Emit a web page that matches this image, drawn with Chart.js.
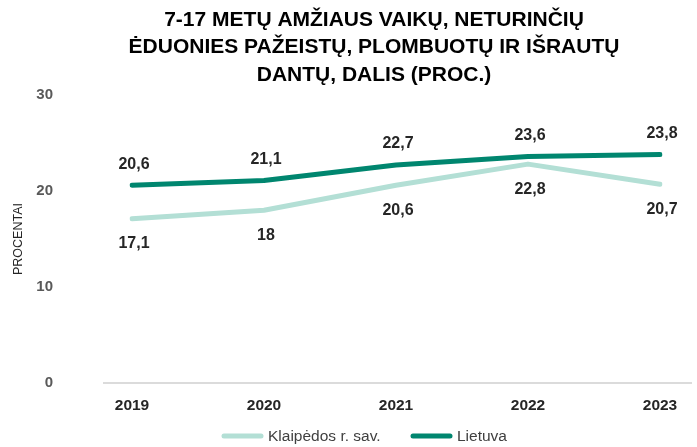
<!DOCTYPE html>
<html lang="lt">
<head>
<meta charset="utf-8">
<title>Vaikų dantys</title>
<script src="https://cdn.jsdelivr.net/npm/chart.js@4"></script>
<style>
    html, body { margin: 0; padding: 0; background: #fff; }
    #wrap { width: 697px; height: 447px; position: relative; }
</style>
</head>
<body>
<div id="wrap"><canvas id="teethChart" width="697" height="447"></canvas></div>
<script>
// Duomenys
const years = ['2019', '2020', '2021', '2022', '2023'];
const klaipedosValues = [17.1, 18, 20.6, 22.8, 20.7];
const lietuvaValues = [20.6, 21.1, 22.7, 23.6, 23.8];
const yTicks = [0, 10, 20, 30];
const seriesNames = ['Klaipėdos r. sav.', 'Lietuva'];
const titleLines = [
    '7-17 METŲ AMŽIAUS VAIKŲ, NETURINČIŲ',
    'ĖDUONIES PAŽEISTŲ, PLOMBUOTŲ IR IŠRAUTŲ',
    'DANTŲ, DALIS (PROC.)'
];

const lightColor = '#b3dfd5';
const darkColor = '#00866f';
const narrowFont = '"Liberation Sans Narrow", "Liberation Sans", Arial, sans-serif';
const labelFont = '"Liberation Sans", Arial, sans-serif';

function fmt(v) {
    return v.toString().replace('.', ',');
}

// Pavadinimas, ašies linija, reikšmių žymės ir legenda
const decorPlugin = {
    id: 'decor',
    beforeDatasetsDraw(chart) {
        const ctx = chart.ctx;
        const area = chart.chartArea;
        const y0 = chart.scales.y.getPixelForValue(0);
        ctx.save();
        ctx.strokeStyle = '#cfcfcf';
        ctx.lineWidth = 1.5;
        ctx.beginPath();
        ctx.moveTo(area.left - 29, y0);
        ctx.lineTo(area.right + 32, y0);
        ctx.stroke();
        ctx.restore();
    },
    afterDraw(chart) {
        const ctx = chart.ctx;
        ctx.save();

        // pavadinimas
        ctx.fillStyle = '#000';
        ctx.font = 'bold 21px ' + narrowFont;
        ctx.textAlign = 'center';
        ctx.textBaseline = 'middle';
        titleLines.forEach((line, i) => {
            ctx.fillText(line, 374, 20 + i * 27.5);
        });

        // reikšmių žymės
        ctx.font = 'bold 16px ' + labelFont;
        ctx.fillStyle = '#262626';
        chart.data.datasets.forEach((ds, di) => {
            const meta = chart.getDatasetMeta(di);
            meta.data.forEach((pt, i) => {
                const dy = di === 0 ? 25 : -21;
                ctx.fillText(fmt(ds.data[i]), pt.x + 2, pt.y + dy);
            });
        });

        // legenda
        const items = [
            { x: 222, color: lightColor, text: seriesNames[0] },
            { x: 411, color: darkColor, text: seriesNames[1] }
        ];
        const ly = 436;
        ctx.font = '15.5px ' + labelFont;
        ctx.textAlign = 'left';
        ctx.fillStyle = '#404040';
        items.forEach(item => {
            ctx.strokeStyle = item.color;
            ctx.lineWidth = 5;
            ctx.lineCap = 'round';
            ctx.beginPath();
            ctx.moveTo(item.x + 2, ly);
            ctx.lineTo(item.x + 39, ly);
            ctx.stroke();
            ctx.fillText(item.text, item.x + 46, ly + 1);
        });

        ctx.restore();
    }
};

function initChart() {
    const canvas = document.getElementById('teethChart');
    const ctx = canvas.getContext('2d');

    new Chart(ctx, {
        type: 'line',
        data: {
            labels: years,
            datasets: [
                {
                    label: seriesNames[0],
                    data: klaipedosValues,
                    borderColor: lightColor,
                    backgroundColor: lightColor,
                    borderWidth: 5,
                    borderCapStyle: 'round',
                    borderJoinStyle: 'round',
                    pointRadius: 0,
                    tension: 0
                },
                {
                    label: seriesNames[1],
                    data: lietuvaValues,
                    borderColor: darkColor,
                    backgroundColor: darkColor,
                    borderWidth: 5,
                    borderCapStyle: 'round',
                    borderJoinStyle: 'round',
                    pointRadius: 0,
                    tension: 0
                }
            ]
        },
        options: {
            responsive: false,
            animation: false,
            layout: {
                padding: { top: 95, right: 37, bottom: 0, left: 0 }
            },
            plugins: {
                title: { display: false },
                legend: { display: false },
                tooltip: { enabled: false }
            },
            scales: {
                x: {
                    offset: false,
                    grid: { display: false, drawTicks: false },
                    border: { display: false },
                    ticks: {
                        padding: 13,
                        color: '#262626',
                        font: { size: 15.5, weight: 'bold', family: labelFont }
                    },
                    afterFit(scale) { scale.height = 64; }
                },
                y: {
                    min: 0,
                    max: 30,
                    grid: { display: false, drawTicks: false },
                    border: { display: false },
                    afterBuildTicks(scale) {
                        scale.ticks = yTicks.map(v => ({ value: v }));
                    },
                    ticks: {
                        padding: 79,
                        color: '#595959',
                        font: { size: 15, weight: 'bold', family: labelFont }
                    },
                    title: {
                        display: true,
                        text: 'PROCENTAI',
                        color: '#262626',
                        padding: { top: 11, bottom: 0 },
                        font: { size: 12.5, family: labelFont }
                    },
                    afterFit(scale) {
                        // the big tick padding must not push the plot area up
                        scale.width = 132;
                        scale.paddingTop = 0;
                        scale.paddingBottom = 0;
                    }
                }
            }
        },
        plugins: [decorPlugin]
    });
}

document.addEventListener('DOMContentLoaded', initChart);
</script>
</body>
</html>
